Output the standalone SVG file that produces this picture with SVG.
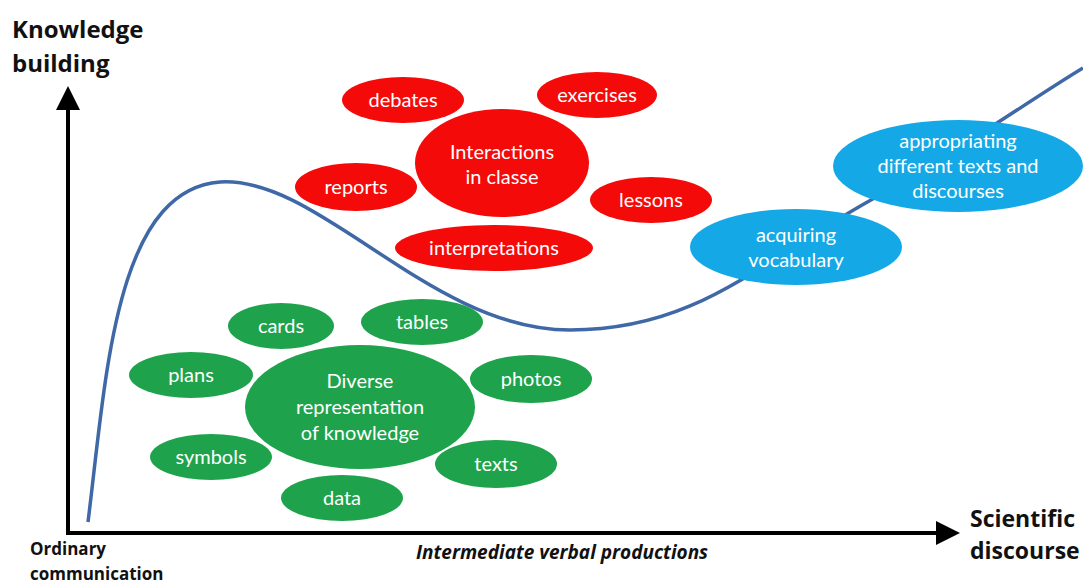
<svg xmlns="http://www.w3.org/2000/svg" width="1083" height="583" viewBox="0 0 1083 583">
<style>
.red{fill:#f50a0a}
.green{fill:#1ea34c}
.blue{fill:#14a9e6}
.lbl{font-family:Lato,"Open Sans","Liberation Sans",sans-serif;font-size:20px;fill:#ffffff;text-anchor:middle}
.ttl{font-family:"Open Sans","Liberation Sans",sans-serif;font-weight:bold;fill:#111}
.axis{stroke:#000;stroke-width:4;fill:none}
</style>
<defs>
<marker id="ah" markerWidth="6" markerHeight="6" refX="3" refY="3" orient="auto" markerUnits="strokeWidth">
<path d="M0,0 L6,3 L0,6 Z" fill="#000"/>
</marker>
</defs>
<rect width="1083" height="583" fill="#fff"/>
<g id="connectors">
<path class="axis" d="M68,533 L68,98" marker-end="url(#ah)"/>
<path class="axis" d="M66,533 L948,533" marker-end="url(#ah)"/>
<path d="M88,522 C106,380 114,190 220,182 C320,176 430,330 570,330 C700,330 760,260 880,195 C960,150 1030,100 1083,68" fill="none" stroke="#3f68a6" stroke-width="3.5"/>
</g>
<g id="axis-labels">
<text class="ttl" x="12" y="38" font-size="24">Knowledge</text>
<text class="ttl" x="12" y="72" font-size="24">building</text>
<text class="ttl" x="30" y="555" font-size="17">Ordinary</text>
<text class="ttl" x="30" y="580" font-size="17">communication</text>
<text class="ttl" x="416" y="559" font-size="19" font-style="italic">Intermediate verbal productions</text>
<text class="ttl" x="970" y="527" font-size="23">Scientific</text>
<text class="ttl" x="970" y="559" font-size="23">discourse</text>
</g>
<g id="debates"><ellipse class="red" cx="403" cy="100" rx="61" ry="23"/><text class="lbl" x="403" y="107">debates</text></g>
<g id="exercises"><ellipse class="red" cx="597" cy="95" rx="60" ry="23"/><text class="lbl" x="597" y="102">exercises</text></g>
<g id="interactions"><ellipse class="red" cx="502" cy="163" rx="87" ry="54"/><text class="lbl" x="502" y="159">Interactions</text><text class="lbl" x="502" y="184">in classe</text></g>
<g id="reports"><ellipse class="red" cx="356" cy="187" rx="61" ry="24"/><text class="lbl" x="356" y="194">reports</text></g>
<g id="lessons"><ellipse class="red" cx="651" cy="200" rx="61" ry="23"/><text class="lbl" x="651" y="207">lessons</text></g>
<g id="interpretations"><ellipse class="red" cx="494" cy="248" rx="99" ry="23"/><text class="lbl" x="494" y="255">interpretations</text></g>
<g id="cards"><ellipse class="green" cx="281" cy="326" rx="53" ry="23"/><text class="lbl" x="281" y="333">cards</text></g>
<g id="tables"><ellipse class="green" cx="422" cy="322" rx="61" ry="23"/><text class="lbl" x="422" y="329">tables</text></g>
<g id="plans"><ellipse class="green" cx="191" cy="375" rx="62" ry="23"/><text class="lbl" x="191" y="382">plans</text></g>
<g id="diverse"><ellipse class="green" cx="360" cy="407" rx="115" ry="62"/><text class="lbl" x="360" y="388">Diverse</text><text class="lbl" x="360" y="414">representation</text><text class="lbl" x="360" y="440">of knowledge</text></g>
<g id="photos"><ellipse class="green" cx="531" cy="379" rx="61" ry="24"/><text class="lbl" x="531" y="386">photos</text></g>
<g id="symbols"><ellipse class="green" cx="211" cy="457" rx="61" ry="23"/><text class="lbl" x="211" y="464">symbols</text></g>
<g id="texts"><ellipse class="green" cx="496" cy="464" rx="61" ry="24"/><text class="lbl" x="496" y="471">texts</text></g>
<g id="data"><ellipse class="green" cx="342" cy="498" rx="61" ry="23"/><text class="lbl" x="342" y="505">data</text></g>
<g id="acquiring"><ellipse class="blue" cx="796" cy="247" rx="106" ry="38"/><text class="lbl" x="796" y="242">acquiring</text><text class="lbl" x="796" y="267">vocabulary</text></g>
<g id="appropriating"><ellipse class="blue" cx="958" cy="166" rx="125" ry="46"/><text class="lbl" x="958" y="148">appropriating</text><text class="lbl" x="958" y="173">different texts and</text><text class="lbl" x="958" y="198">discourses</text></g>
</svg>
